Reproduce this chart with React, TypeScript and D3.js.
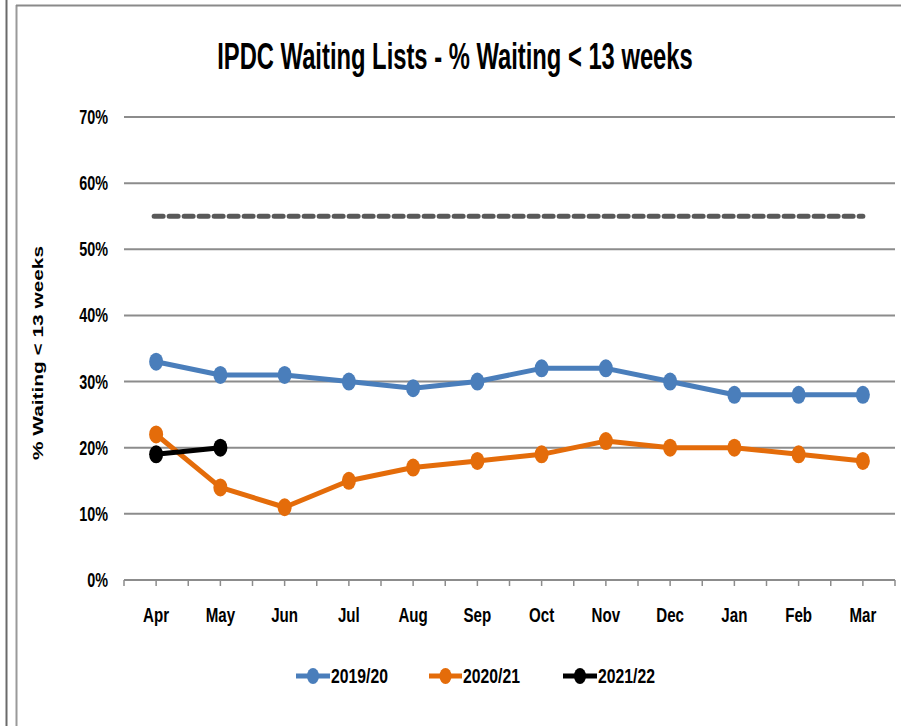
import React from "react";
import * as d3 from "d3";

const MONTHS = ["Apr", "May", "Jun", "Jul", "Aug", "Sep", "Oct", "Nov", "Dec", "Jan", "Feb", "Mar"];
const Y_TICKS = [0, 0.1, 0.2, 0.3, 0.4, 0.5, 0.6, 0.7];

const S_2019 = [0.33, 0.31, 0.31, 0.3, 0.29, 0.3, 0.32, 0.32, 0.3, 0.28, 0.28, 0.28];
const S_2020 = [0.22, 0.14, 0.11, 0.15, 0.17, 0.18, 0.19, 0.21, 0.2, 0.2, 0.19, 0.18];
const S_2021 = [0.19, 0.2];
const TARGET = 0.55;

const SERIES = [
  { name: "2019/20", values: S_2019, color: "#4a7ebb" },
  { name: "2020/21", values: S_2020, color: "#e46c0a" },
  { name: "2021/22", values: S_2021, color: "#000000" },
];

const W = 901;
const H = 726;
const PLOT = { left: 124, right: 895, top: 117, bottom: 580 };
const FONT = "'Liberation Sans', Arial, sans-serif";
const SX = 0.72; // narrow the glyphs a bit, like the original

export default function App() {
  const x = d3.scaleBand<string>().domain(MONTHS).range([PLOT.left, PLOT.right]).paddingInner(0).paddingOuter(0);
  const bw = x.bandwidth();
  const cx = (m: string) => (x(m) as number) + bw / 2;
  const y = d3.scaleLinear().domain([0, 0.7]).range([PLOT.bottom, PLOT.top]);

  const line = d3
    .line<number>()
    .x((_d, i) => cx(MONTHS[i]))
    .y((d) => y(d));

  // ticks sit on the band edges and the band centres
  const tickXs: number[] = [];
  MONTHS.forEach((m) => {
    tickXs.push(x(m) as number);
    tickXs.push(cx(m));
  });
  tickXs.push(PLOT.right);

  const legendItems = [
    { x0: 296, x1: 330, tx: 331 },
    { x0: 429, x1: 462, tx: 463 },
    { x0: 563, x1: 597, tx: 598 },
  ];

  return (
    <svg
      width={W}
      height={H}
      style={{ position: "absolute", left: 0, top: 0, display: "block", background: "#fff" }}
      fontFamily={FONT}
    >
      {/* frame */}
      <line x1={6.5} x2={6.5} y1={0} y2={H} stroke="#6a6a6a" strokeWidth={2} />
      <line x1={16.5} x2={16.5} y1={5} y2={H} stroke="#9a9a9a" strokeWidth={2} />
      <line x1={16} x2={W} y1={5.5} y2={5.5} stroke="#8a8a8a" strokeWidth={2} />

      {/* title */}
      <text transform="translate(455,69) scale(0.66,1)" textAnchor="middle" fontSize={36} fontWeight="bold" fill="#000">
        IPDC Waiting Lists - % Waiting &lt; 13 weeks
      </text>

      {/* gridlines + y labels */}
      {Y_TICKS.map((t) => (
        <g key={t}>
          {t > 0 && (
            <line x1={PLOT.left} x2={PLOT.right} y1={y(t)} y2={y(t)} stroke="#8c8c8c" strokeWidth={2} />
          )}
          <text
            transform={`translate(108,${y(t) + 7}) scale(${SX},1)`}
            textAnchor="end"
            fontSize={20}
            fontWeight="bold"
          >
            {d3.format(".0%")(t)}
          </text>
        </g>
      ))}

      {/* x axis */}
      <line x1={PLOT.left} x2={PLOT.right} y1={PLOT.bottom} y2={PLOT.bottom} stroke="#8c8c8c" strokeWidth={2} />
      {tickXs.map((tx, i) => (
        <line key={i} x1={tx} x2={tx} y1={PLOT.bottom} y2={PLOT.bottom + 6} stroke="#8c8c8c" strokeWidth={1.5} />
      ))}
      {MONTHS.map((m) => (
        <text
          key={m}
          transform={`translate(${cx(m)},622) scale(${SX},1)`}
          textAnchor="middle"
          fontSize={21}
          fontWeight="bold"
        >
          {m}
        </text>
      ))}

      {/* y axis title */}
      <text
        transform="translate(43,353) rotate(-90) scale(1.49,1)"
        textAnchor="middle"
        fontSize={14}
        fontWeight="bold"
      >
        % Waiting &lt; 13 weeks
      </text>

      {/* target */}
      <line
        x1={cx("Apr") - 2}
        x2={cx("Mar")}
        y1={y(TARGET)}
        y2={y(TARGET)}
        stroke="#595959"
        strokeWidth={5}
        strokeDasharray="9,6"
        strokeLinecap="round"
      />

      {/* series */}
      {SERIES.map((s) => (
        <g key={s.name}>
          <path d={line(s.values) || ""} fill="none" stroke={s.color} strokeWidth={5} strokeLinejoin="round" />
          {s.values.map((v, i) => (
            <ellipse key={i} cx={cx(MONTHS[i])} cy={y(v)} rx={7} ry={9} fill={s.color} />
          ))}
        </g>
      ))}

      {/* legend */}
      {SERIES.map((s, i) => {
        const li = legendItems[i];
        return (
          <g key={s.name}>
            <line x1={li.x0} x2={li.x1} y1={676} y2={676} stroke={s.color} strokeWidth={5} />
            <ellipse cx={(li.x0 + li.x1) / 2} cy={676} rx={6} ry={8} fill={s.color} />
            <text transform={`translate(${li.tx},683) scale(0.75,1)`} fontSize={21} fontWeight="bold">
              {s.name}
            </text>
          </g>
        );
      })}
    </svg>
  );
}
